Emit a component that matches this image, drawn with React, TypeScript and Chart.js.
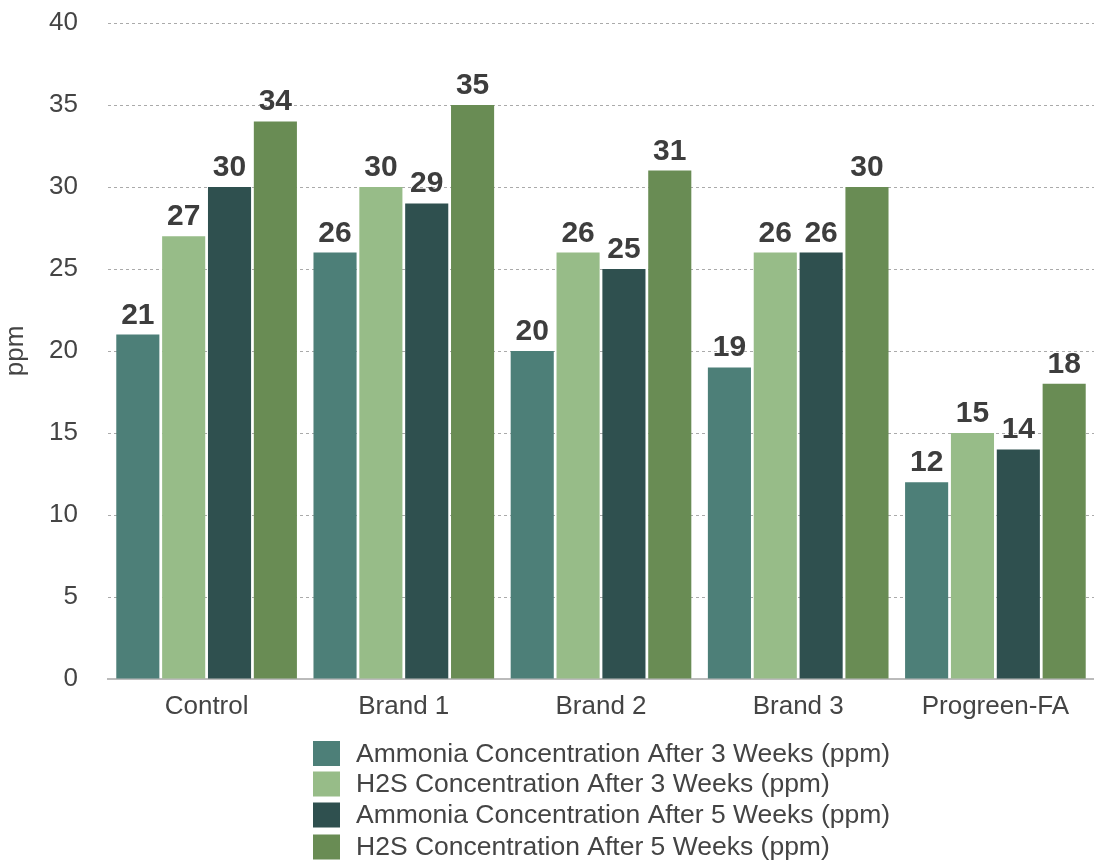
import React, { useEffect, useRef } from "react";
import { Chart, registerables } from "chart.js";

Chart.register(...registerables);

const categories = ["Control", "Brand 1", "Brand 2", "Brand 3", "Progreen-FA"];
const seriesNames = [
  "Ammonia Concentration After 3 Weeks (ppm)",
  "H2S Concentration After 3 Weeks (ppm)",
  "Ammonia Concentration After 5 Weeks (ppm)",
  "H2S Concentration After 5 Weeks (ppm)",
];
const ammonia3 = [21, 26, 20, 19, 12];
const h2s3 = [27, 30, 26, 26, 15];
const ammonia5 = [30, 29, 25, 26, 14];
const h2s5 = [34, 35, 31, 30, 18];
const seriesColors = ["#4d7f78", "#97bc88", "#2f504f", "#698c54"];
const yTicks = [0, 5, 10, 15, 20, 25, 30, 35, 40];

const FONT = "'Liberation Sans', Arial, Helvetica, sans-serif";

const valueLabels = {
  id: "valueLabels",
  afterDatasetsDraw(chart: any) {
    const ctx = chart.ctx;
    ctx.save();
    ctx.font = `bold 30px ${FONT}`;
    ctx.fillStyle = "#3d3d3d";
    ctx.textAlign = "center";
    ctx.textBaseline = "alphabetic";
    chart.data.datasets.forEach((ds: any, i: number) => {
      const meta = chart.getDatasetMeta(i);
      meta.data.forEach((bar: any, j: number) => {
        ctx.fillText(String(ds.data[j]), bar.x, bar.y - 11);
      });
    });
    ctx.restore();
  },
};

const customLegend = {
  id: "customLegend",
  afterDraw(chart: any) {
    const ctx = chart.ctx;
    ctx.save();
    ctx.font = `26.5px ${FONT}`;
    ctx.textBaseline = "middle";
    ctx.textAlign = "left";
    const x0 = 313;
    const centers = [753.5, 784, 815, 847];
    chart.data.datasets.forEach((ds: any, i: number) => {
      const cy = centers[i];
      ctx.fillStyle = ds.backgroundColor;
      ctx.fillRect(x0, cy - 12.5, 27, 25);
      ctx.fillStyle = "#444444";
      ctx.fillText(ds.label, x0 + 43, cy + 1);
    });
    ctx.restore();
  },
};

export default function App() {
  const ref = useRef<HTMLCanvasElement>(null);
  useEffect(() => {
    if (!ref.current) return;
    const allData = [ammonia3, h2s3, ammonia5, h2s5];
    const chart = new Chart(ref.current, {
      type: "bar",
      data: {
        labels: categories,
        datasets: allData.map((d, i) => ({
          label: seriesNames[i],
          data: d,
          backgroundColor: seriesColors[i],
          borderWidth: 0,
          barPercentage: 0.94,
          categoryPercentage: 0.93,
        })),
      },
      options: {
        animation: false,
        responsive: false,
        devicePixelRatio: 1,
        layout: { padding: { top: 23, right: 0, bottom: 0, left: 0 } },
        plugins: {
          legend: { display: false },
          tooltip: { enabled: false },
        },
        scales: {
          x: {
            afterFit: (s: any) => {
              s.height = 184;
              s.paddingTop = 0;
              s.paddingBottom = 0;
              s.paddingLeft = 0;
              s.paddingRight = 0;
            },
            grid: { display: false, drawTicks: false },
            border: { display: true, color: "#bbbbbb", width: 2 },
            ticks: { color: "#444444", font: { family: FONT, size: 26 }, padding: 12 },
          },
          y: {
            min: 0,
            max: 40,
            afterFit: (s: any) => {
              s.width = 108;
              s.paddingTop = 0;
              s.paddingBottom = 0;
              s.paddingLeft = 0;
              s.paddingRight = 0;
            },
            afterBuildTicks: (axis: any) => {
              axis.ticks = yTicks.map((v) => ({ value: v }));
            },
            grid: { color: "#aaaaaa", lineWidth: 1, drawTicks: false },
            border: { display: false, dash: [3, 3] },
            ticks: { color: "#444444", font: { family: FONT, size: 26 }, padding: 30 },
            title: {
              display: true,
              text: "ppm",
              color: "#444444",
              font: { family: FONT, size: 26 },
              padding: { top: 0, bottom: 0 },
            },
          },
        },
      },
      plugins: [valueLabels, customLegend],
    });
    return () => chart.destroy();
  }, []);
  return (
    <div style={{ position: "absolute", left: 0, top: 0, width: 1094, height: 863, background: "#fff" }}>
      <canvas ref={ref} width={1094} height={863} style={{ display: "block" }} />
    </div>
  );
}
